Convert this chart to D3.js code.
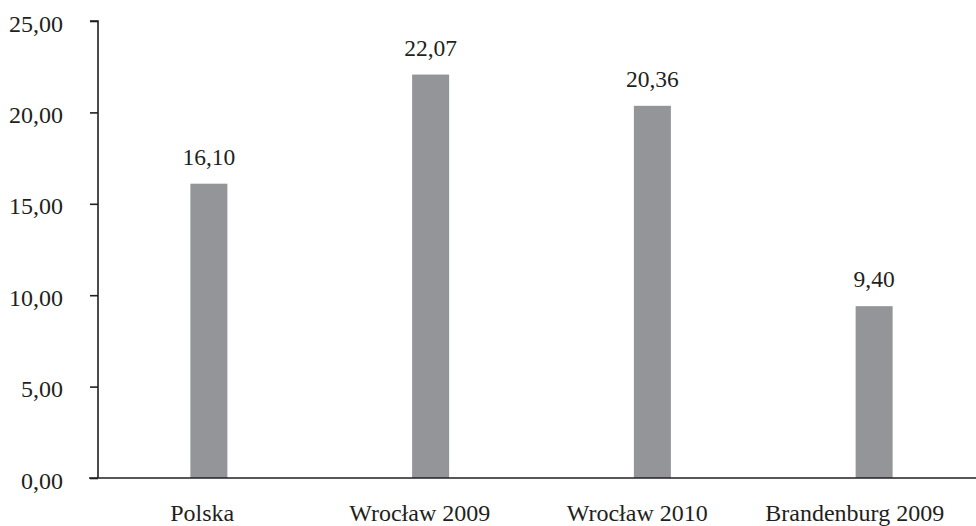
<!DOCTYPE html>
<html>
<head>
<meta charset="utf-8">
<script src="https://cdn.jsdelivr.net/npm/d3@7/dist/d3.min.js"></script>
<style>
  html, body { margin: 0; padding: 0; background: #fff; }
  svg { display: block; }
  text { font-family: "Liberation Serif", "Times New Roman", serif; fill: #231f20; }
</style>
</head>
<body>
<svg id="chart" width="976" height="526"></svg>
<script>
// Values per region
const categories = ["Polska", "Wrocław 2009", "Wrocław 2010", "Brandenburg 2009"];
const values = [16.10, 22.07, 20.36, 9.40];
const yTicks = [0, 5, 10, 15, 20, 25];

const svg = d3.select("#chart");
const fmt = v => d3.format(".2f")(v).replace(".", ",");
const serif = '"Liberation Serif", "Times New Roman", serif';

const x = d3.scaleBand().domain(categories).range([98, 985]).padding(0);
// category labels sit on a slightly tighter grid than the bars
const xLabel = d3.scaleBand().domain(categories).range([93.5, 963.5]).padding(0);
const y = d3.scaleLinear().domain([0, 25]).range([478, 21]);
const barW = 37;
const ink = "#231f20";

// Bars
svg.append("g").selectAll("rect")
  .data(values)
  .join("rect")
  .attr("x", (d, i) => x(categories[i]) + x.bandwidth() / 2 - barW / 2)
  .attr("y", d => y(d))
  .attr("width", barW)
  .attr("height", d => y(0) - y(d))
  .attr("fill", "#939598");

// Value labels
svg.append("g").selectAll("text")
  .data(values)
  .join("text")
  .attr("x", (d, i) => x(categories[i]) + x.bandwidth() / 2)
  .attr("y", d => y(d) - 19)
  .attr("text-anchor", "middle")
  .style("font-size", "23.5px")
  .text(d => fmt(d));

// Y axis
const yAxis = svg.append("g")
  .attr("transform", "translate(98,0)")
  .call(d3.axisLeft(y).tickValues(yTicks).tickSize(8).tickPadding(27).tickFormat(fmt));
yAxis.select(".domain").attr("d", `M-8,${y(25)}H0V${y(0)}`).attr("stroke", ink).attr("stroke-width", 1.6);
yAxis.selectAll(".tick line").attr("stroke", ink).attr("stroke-width", 1.6);
yAxis.selectAll(".tick text")
  .attr("dy", "0.42em")
  .style("font-size", "24px")
  .style("font-family", serif)
  .attr("fill", ink);

// X axis line
svg.append("path")
  .attr("d", `M89,${y(0)}H976`)
  .attr("stroke", ink)
  .attr("stroke-width", 1.6)
  .attr("fill", "none");

// Category labels
const xAxis = svg.append("g")
  .attr("transform", `translate(0,${y(0)})`)
  .call(d3.axisBottom(xLabel).tickSize(0));
xAxis.select(".domain").remove();
xAxis.selectAll(".tick text")
  .attr("dy", "0")
  .attr("y", 43)
  .style("font-size", "24px")
  .style("font-family", serif)
  .attr("fill", ink);
</script>
</body>
</html>
